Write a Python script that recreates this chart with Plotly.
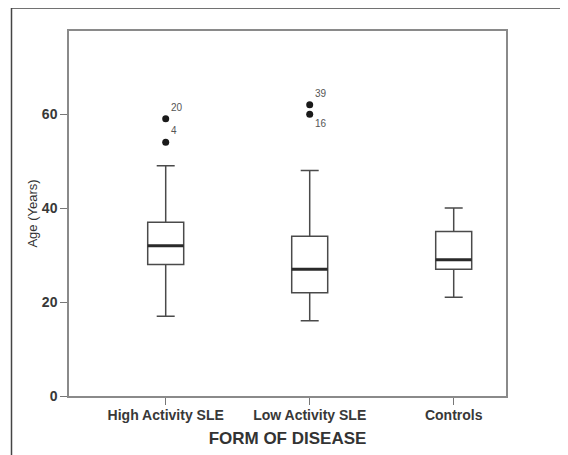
import plotly.graph_objects as go

categories = ["High Activity SLE", "Low Activity SLE", "Controls"]
q1 = [28, 22, 27]
median = [32, 27, 29]
q3 = [37, 34, 35]
lower_whisker = [17, 16, 21]
upper_whisker = [49, 48, 40]
outlier_group = [0, 0, 1, 1]
outlier_values = [59, 54, 62, 60]
outlier_labels = ["20", "4", "39", "16"]
outlier_label_pos = ["top right", "top right", "top right", "bottom right"]
y_ticks = [0, 20, 40, 60]

FONT = "Arial, Liberation Sans, sans-serif"
LINE = "#4a4a4a"
BOX_W = 0.25

fig = go.Figure()
xs = list(range(len(categories)))
fig.add_trace(go.Box(
    x=xs, q1=q1, median=median, q3=q3,
    lowerfence=lower_whisker, upperfence=upper_whisker,
    width=BOX_W, whiskerwidth=0.5, boxpoints=False,
    line=dict(color=LINE, width=1.5), fillcolor="rgba(0,0,0,0)",
    showlegend=False, hoverinfo="skip",
))
for i, m in enumerate(median):
    fig.add_trace(go.Scatter(
        x=[xs[i] - BOX_W / 2, xs[i] + BOX_W / 2], y=[m, m], mode="lines",
        line=dict(color="#2a2a2a", width=3), showlegend=False, hoverinfo="skip",
    ))
fig.add_trace(go.Scatter(
    x=[xs[g] for g in outlier_group], y=outlier_values,
    mode="markers+text", text=outlier_labels, textposition=outlier_label_pos,
    textfont=dict(family=FONT, size=10, color="#555"),
    marker=dict(color="#1a1a1a", size=7), showlegend=False, hoverinfo="skip",
))

# page body has an 8px margin; work in window pixels and offset
OFF = 8
W, H = 568 - OFF, 455 - OFF
L, R, T, B = 69, 506, 31, 396
pw, ph = R - L, B - T
def px(x):
    return (x - L) / pw
def py(y):
    return (B - y) / ph

fig.add_shape(type="path", xref="paper", yref="paper",
              path=f"M {px(11.5)} {py(470)} L {px(11.5)} {py(8)} L {px(600)} {py(8)}",
              line=dict(color="#444", width=1.5))

fig.update_layout(
    width=W, height=H,
    margin=dict(l=L - OFF, r=568 - R, t=T - OFF, b=455 - B, autoexpand=False),
    paper_bgcolor="white", plot_bgcolor="white",
    font=dict(family=FONT, color="#333"),
    xaxis=dict(
        range=[(L - 165.7) / 144, (R - 165.7) / 144],
        tickvals=xs, ticktext=categories,
        tickfont=dict(family=FONT, size=14, color="#383838", weight="bold"),
        ticks="outside", ticklen=7, tickcolor="#777", tickwidth=1.2,
        ticklabelstandoff=-2,
        showline=True, linecolor="#8a8a8a", linewidth=1.5, mirror=True,
        showgrid=False, zeroline=False, automargin=False,
        title=dict(text="FORM OF DISEASE", standoff=11,
                   font=dict(family=FONT, size=17, color="#333", weight="bold")),
    ),
    yaxis=dict(
        range=[0, 77.7], tickvals=y_ticks,
        tickfont=dict(family=FONT, size=14, color="#383838", weight="bold"),
        ticks="outside", ticklen=7, tickcolor="#777", tickwidth=1.2,
        showline=True, linecolor="#8a8a8a", linewidth=1.5, mirror=True,
        showgrid=False, zeroline=False, automargin=False,
        title=dict(text="Age (Years)", standoff=1,
                   font=dict(family=FONT, size=13, color="#333")),
    ),
)

fig.write_html("out.html")
